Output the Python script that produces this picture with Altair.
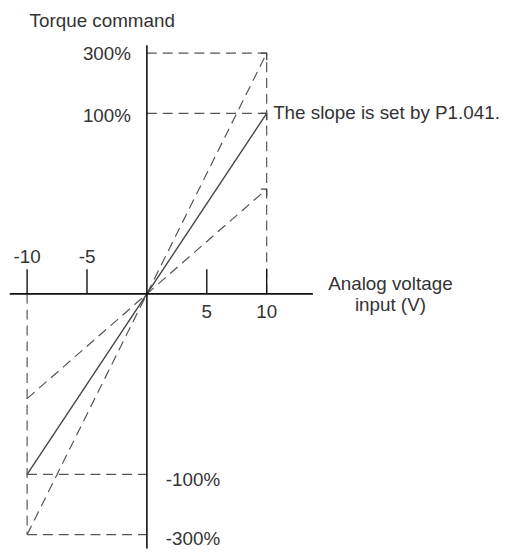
import altair as alt
import pandas as pd

# ---- data (schematic units: x in volts, y in "level" units) ----
tick_volts = [-10, -5, 5, 10]
tick_labels = ["-10", "-5", "5", "10"]
pct_labels = ["300%", "100%", "-100%", "-300%"]
pct_levels = [4, 3, -3, -4]
slope_ends = [4, 3, 1.74]          # steep (dashed), nominal (solid), shallow (dashed)
slope_dashed = [True, False, True]
v_max = 10

# axes
axes = pd.DataFrame({"x": [-11.45, 0], "y": [0, -4.23], "x2": [13.86, 0], "y2": [0, 4.13]})

# ticks
ticks = pd.DataFrame({"x": tick_volts, "y": [0] * 4, "y2": [0.41] * 4})

# dashed guides
guides = pd.DataFrame({
    "x":  [0, 0, -v_max, -v_max, v_max, -v_max],
    "y":  [pct_levels[0], pct_levels[1], pct_levels[2], pct_levels[3], 0, 0],
    "x2": [v_max, v_max, 0, 0, v_max, -v_max],
    "y2": [pct_levels[0], pct_levels[1], pct_levels[2], pct_levels[3], pct_levels[0], pct_levels[3]],
})

slopes = pd.DataFrame({
    "x": [-v_max] * 3, "y": [-s for s in slope_ends],
    "x2": [v_max] * 3, "y2": slope_ends, "dashed": slope_dashed,
})
arrows = pd.DataFrame({"x": [v_max] * 3, "y": slope_ends})

xs = alt.Scale(domain=[-11.595, 29.15], nice=False, zero=False)
ys = alt.Scale(domain=[-4.227, 4.688], nice=False, zero=False)

def enc4():
    return dict(
        x=alt.X("x:Q", scale=xs, axis=None),
        y=alt.Y("y:Q", scale=ys, axis=None),
        x2="x2:Q", y2="y2:Q",
    )

axes_layer = alt.Chart(axes).mark_rule(color="#111111", strokeWidth=1.6).encode(**enc4())
ticks_layer = alt.Chart(ticks).mark_rule(color="#111111", strokeWidth=1.4).encode(
    x=alt.X("x:Q", scale=xs, axis=None),
    y=alt.Y("y:Q", scale=ys, axis=None),
    y2="y2:Q",
)
guides_layer = alt.Chart(guides).mark_rule(color="#555555", strokeWidth=1.2, strokeDash=[10, 6]).encode(**enc4())
dash_slopes = alt.Chart(slopes[slopes["dashed"]]).mark_rule(color="#555555", strokeWidth=1.2, strokeDash=[10, 6]).encode(**enc4())
solid_slope = alt.Chart(slopes[~slopes["dashed"]]).mark_rule(color="#444444", strokeWidth=1.4).encode(**enc4())
arrow_layer = alt.Chart(arrows).mark_point(
    shape="M -0.8 0 L 0 0 L 0 1", size=200, filled=False, color="#444444",
    strokeWidth=1.3, opacity=1,
).encode(
    x=alt.X("x:Q", scale=xs, axis=None),
    y=alt.Y("y:Q", scale=ys, axis=None),
)

# text
font = "Liberation Sans"
fs = 19
txt_col = "#333333"

left_text = pd.DataFrame({
    "x": [-9.79, 1.58, 1.58, 10.54],
    "y": [4.54, -3.09, -4.08, 3.01],
    "t": ["Torque command", pct_labels[2], pct_labels[3], "The slope is set by P1.041."],
})
right_text = pd.DataFrame({
    "x": [-1.33, -1.33],
    "y": [3.98, 2.95],
    "t": [pct_labels[0], pct_labels[1]],
})
center_text = pd.DataFrame({
    "x": tick_volts + [20.33, 20.33],
    "y": [0.61, 0.61, -0.3, -0.3, 0.17, -0.18],
    "t": tick_labels + ["Analog voltage", "input (V)"],
})

def text_layer(df, align):
    return alt.Chart(df).mark_text(
        align=align, baseline="middle", font=font, fontSize=fs, color=txt_col
    ).encode(
        x=alt.X("x:Q", scale=xs, axis=None),
        y=alt.Y("y:Q", scale=ys, axis=None),
        text="t:N",
    )

chart = alt.layer(
    guides_layer, dash_slopes, solid_slope, arrow_layer, axes_layer, ticks_layer,
    text_layer(left_text, "left"), text_layer(right_text, "right"), text_layer(center_text, "center"),
).properties(width=493, height=542, padding=0).configure_view(stroke=None)

chart.save("out.html", embed_options={"renderer": "svg", "actions": False})
